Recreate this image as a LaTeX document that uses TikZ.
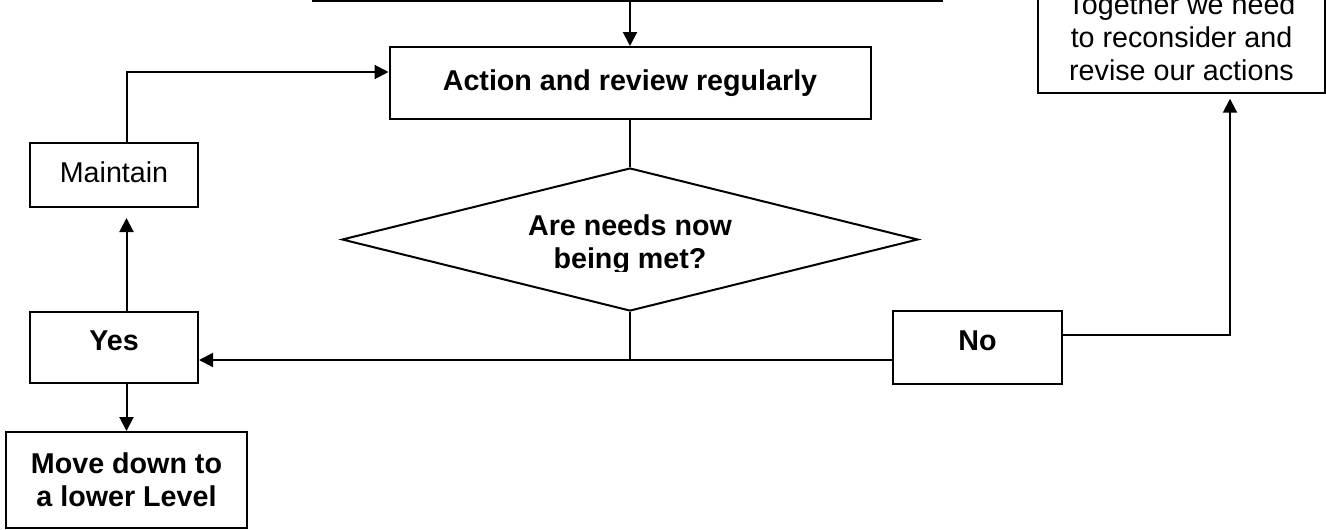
\documentclass[tikz,border=0pt]{standalone}
\usepackage{fontspec}
\setmainfont{Liberation Sans}
\usetikzlibrary{arrows.meta,shapes.geometric}
\begin{document}
\begin{tikzpicture}[x=0.75pt,y=-0.75pt,
  box/.style={draw, line width=1.5pt, rectangle, inner sep=0pt, align=center, font=\fontsize{21.5}{25}\selectfont},
  bbox/.style={box, font=\fontsize{21.5}{25}\selectfont\bfseries},
  conn/.style={line width=1.5pt},
  arr/.style={conn, -{Triangle[length=10.5pt,width=10.5pt]}}]
\clip (0,0) rectangle (1326,529);
\fill[white] (0,0) rectangle (1326,529);
% nodes
\node[box, minimum width=471.75pt, minimum height=45pt] (top) at (627.5,-29) {};
\node[bbox, minimum width=360.75pt, minimum height=54pt] (action) at (630,83) {Action and review regularly};
\node[draw, diamond, line width=1.5pt, aspect=4.03, minimum width=432pt, minimum height=107.25pt, inner sep=0pt] (dec) at (630,239.5) {};
\begin{scope}
  \clip (0,0) rectangle (1326,271);
  \node[font=\fontsize{21.5}{25}\selectfont\bfseries, align=center, inner sep=0pt] (dectext) at (630,244.5) {Are needs now\\being met?};
\end{scope}
\node[box, minimum width=126pt, minimum height=48pt, text depth=4.5pt] (maintain) at (114,175) {Maintain};
\node[bbox, minimum width=126pt, minimum height=53.25pt, text depth=10.5pt] (yes) at (114,347.5) {Yes};
\node[bbox, minimum width=126.75pt, minimum height=54.75pt, text depth=10.5pt] (no) at (977.5,347.5) {No};
\node[bbox, minimum width=180.75pt, minimum height=72pt] (move) at (126.5,480) {Move down to\\a lower Level};
\node[box, minimum width=215.25pt, minimum height=73.5pt, text depth=9pt] (together) at (1181.5,43) {Together we need\\to reconsider and\\revise our actions};
% connectors
\draw[arr] (top.south -| action.north) -- (action.north);
\draw[conn] (action.south) -- (dec.north);
\coordinate (j) at (dec.south |- 0,360);
\draw[conn] (dec.south) -- (j);
\draw[arr] (no.west |- j) -- (yes.east |- j);
\draw[arr] (yes.south -| move.north) -- (move.north);
\draw[arr, shorten >=7.5pt] (yes.north -| move.north) -- (maintain.south -| move.north);
\draw[arr] (maintain.north -| move.north) |- ([yshift=8.25pt]action.west);
\draw[arr, shorten >=3.75pt] ([yshift=9.375pt]no.east) -| ([xshift=36.375pt]together.south);
\end{tikzpicture}
\end{document}
